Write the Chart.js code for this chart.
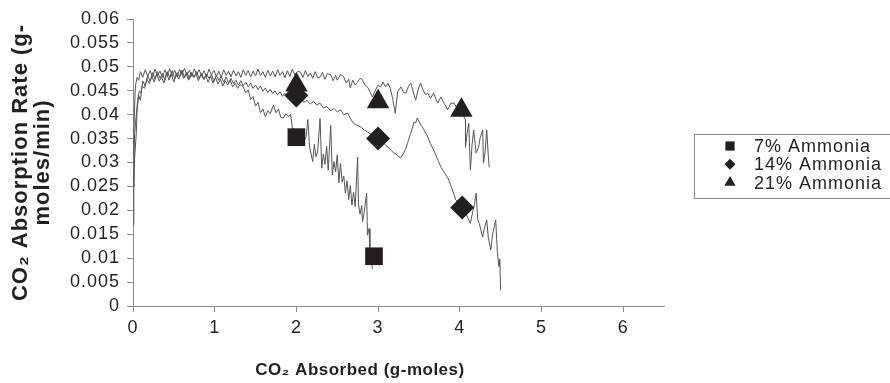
<!DOCTYPE html>
<html>
<head>
<meta charset="utf-8">
<script src="https://cdn.jsdelivr.net/npm/chart.js@4.4.1/dist/chart.umd.min.js"></script>
<style>
  html, body { margin: 0; padding: 0; background: #fff; }
  #wrap { width: 890px; height: 383px; }
</style>
</head>
<body>
<div id="wrap"><canvas id="grafico" width="890" height="383"></canvas></div>
<script>
const seriesLabels = ['7% Ammonia', '14% Ammonia', '21% Ammonia'];
const markerStyles = ['rect', 'rectRot', 'triangle'];
const xTitle = 'CO₂ Absorbed (g-moles)';
const yTitle = ['CO₂ Absorption Rate (g-', 'moles/min)'];

// measured curves, [g-moles absorbed, rate]
const curve7 = [[0,0.017],[0.01,0.024],[0.02,0.031],[0.04,0.036],[0.05,0.041],[0.07,0.044],[0.09,0.043],[0.11,0.046],[0.14,0.0455],[0.17,0.0475],[0.2,0.0465],[0.23,0.048],[0.26,0.0468],[0.29,0.0485],[0.32,0.047],[0.35,0.0478],[0.38,0.0466],[0.41,0.0488],[0.44,0.0472],[0.47,0.0484],[0.5,0.0468],[0.53,0.0486],[0.56,0.0474],[0.59,0.049],[0.62,0.0476],[0.65,0.0487],[0.68,0.0472],[0.71,0.0489],[0.74,0.0478],[0.77,0.0486],[0.8,0.0471],[0.83,0.0484],[0.86,0.0475],[0.89,0.0482],[0.92,0.0468],[0.95,0.048],[0.98,0.0466],[1.01,0.0478],[1.04,0.0464],[1.07,0.0474],[1.1,0.046],[1.13,0.0471],[1.16,0.0462],[1.19,0.0472],[1.22,0.0458],[1.25,0.0466],[1.28,0.0455],[1.31,0.0463],[1.35,0.0458],[1.38,0.0446],[1.41,0.0452],[1.44,0.0432],[1.47,0.0438],[1.5,0.0418],[1.53,0.0426],[1.56,0.0404],[1.59,0.0412],[1.62,0.0396],[1.65,0.0408],[1.68,0.0402],[1.72,0.042],[1.75,0.0404],[1.78,0.0412],[1.81,0.0394],[1.84,0.0393],[1.87,0.0402],[1.9,0.0396],[1.93,0.0401],[1.95,0.0372],[1.99,0.0368],[2.02,0.0362],[2.05,0.0358],[2.08,0.0352],[2.1,0.0346],[2.12,0.0355],[2.14,0.039],[2.16,0.0335],[2.18,0.0318],[2.2,0.0302],[2.22,0.0338],[2.24,0.0312],[2.26,0.0322],[2.29,0.0392],[2.31,0.0288],[2.33,0.0318],[2.35,0.0296],[2.37,0.0334],[2.39,0.0284],[2.42,0.0378],[2.44,0.0274],[2.46,0.0302],[2.48,0.028],[2.5,0.0316],[2.52,0.0258],[2.54,0.0298],[2.56,0.0259],[2.58,0.0272],[2.6,0.0236],[2.62,0.0262],[2.64,0.0222],[2.66,0.0252],[2.68,0.0211],[2.7,0.0238],[2.72,0.0208],[2.75,0.0311],[2.76,0.0212],[2.78,0.0192],[2.8,0.021],[2.81,0.0176],[2.83,0.0196],[2.86,0.0236],[2.87,0.0148],[2.89,0.0162],[2.9,0.0113],[2.92,0.0095],[2.93,0.0078]];

const curve14 = [[0,0.025],[0.01,0.03],[0.02,0.036],[0.04,0.04],[0.06,0.0435],[0.08,0.045],[0.1,0.0445],[0.12,0.047],[0.15,0.046],[0.18,0.0482],[0.21,0.047],[0.24,0.0488],[0.27,0.0474],[0.3,0.049],[0.33,0.0476],[0.36,0.0486],[0.39,0.0472],[0.42,0.049],[0.45,0.0478],[0.48,0.0492],[0.51,0.0475],[0.54,0.0488],[0.57,0.0479],[0.6,0.0493],[0.63,0.0477],[0.66,0.0489],[0.69,0.0474],[0.72,0.0487],[0.75,0.0478],[0.78,0.049],[0.81,0.0475],[0.84,0.0486],[0.87,0.0473],[0.9,0.0485],[0.93,0.0476],[0.96,0.0484],[0.99,0.047],[1.02,0.0482],[1.05,0.0472],[1.08,0.048],[1.11,0.0468],[1.14,0.0479],[1.17,0.0466],[1.2,0.0476],[1.23,0.0465],[1.26,0.0472],[1.29,0.0462],[1.32,0.0471],[1.35,0.046],[1.38,0.0468],[1.41,0.0458],[1.44,0.0466],[1.47,0.0455],[1.5,0.0462],[1.53,0.0452],[1.56,0.046],[1.59,0.0449],[1.62,0.0456],[1.65,0.0446],[1.68,0.0453],[1.71,0.0444],[1.74,0.045],[1.77,0.0441],[1.8,0.0448],[1.83,0.0438],[1.86,0.0445],[1.89,0.0436],[1.92,0.0442],[1.95,0.0433],[1.98,0.0438],[2.01,0.0432],[2.05,0.0436],[2.09,0.0426],[2.13,0.043],[2.17,0.0422],[2.21,0.0428],[2.25,0.042],[2.29,0.0424],[2.33,0.0414],[2.37,0.0417],[2.42,0.0408],[2.46,0.0413],[2.5,0.0406],[2.54,0.041],[2.58,0.04],[2.63,0.0403],[2.66,0.0392],[2.7,0.0382],[2.74,0.0378],[2.79,0.0374],[2.83,0.0368],[2.87,0.0364],[2.92,0.0358],[2.96,0.0355],[3.0,0.035],[3.04,0.0345],[3.08,0.0338],[3.12,0.0332],[3.16,0.0326],[3.19,0.032],[3.22,0.0318],[3.25,0.0312],[3.28,0.0311],[3.31,0.0318],[3.34,0.033],[3.36,0.034],[3.39,0.0356],[3.42,0.0372],[3.44,0.0385],[3.46,0.0383],[3.48,0.0393],[3.5,0.0386],[3.52,0.038],[3.55,0.0372],[3.58,0.0362],[3.61,0.0353],[3.64,0.034],[3.68,0.0326],[3.71,0.0314],[3.74,0.0302],[3.77,0.029],[3.8,0.0282],[3.83,0.0274],[3.86,0.0266],[3.89,0.0252],[3.92,0.0238],[3.95,0.0222],[3.98,0.0218],[4.01,0.0212],[4.04,0.0207],[4.07,0.0196],[4.1,0.0184],[4.13,0.0173],[4.16,0.0198],[4.18,0.0212],[4.2,0.0236],[4.22,0.018],[4.24,0.0172],[4.26,0.0158],[4.28,0.0144],[4.3,0.0162],[4.33,0.018],[4.35,0.0142],[4.38,0.0117],[4.4,0.0148],[4.42,0.0164],[4.44,0.018],[4.46,0.0112],[4.48,0.0082],[4.49,0.0098],[4.5,0.0033]];

const curve21 = [[0,0.031],[0.01,0.036],[0.02,0.042],[0.03,0.046],[0.05,0.0478],[0.07,0.0472],[0.09,0.049],[0.12,0.0478],[0.15,0.0494],[0.18,0.048],[0.21,0.0492],[0.24,0.0479],[0.27,0.0495],[0.3,0.0482],[0.33,0.0491],[0.36,0.0478],[0.39,0.0494],[0.42,0.0483],[0.45,0.0496],[0.48,0.0481],[0.51,0.0493],[0.54,0.0479],[0.57,0.0495],[0.6,0.0484],[0.63,0.0497],[0.66,0.0482],[0.69,0.0493],[0.72,0.048],[0.75,0.0496],[0.78,0.0484],[0.81,0.0494],[0.84,0.0481],[0.87,0.0492],[0.9,0.0479],[0.93,0.0495],[0.96,0.0483],[0.99,0.0493],[1.02,0.048],[1.05,0.0491],[1.08,0.0478],[1.11,0.0494],[1.14,0.0482],[1.17,0.0491],[1.2,0.0479],[1.23,0.0493],[1.26,0.0481],[1.29,0.049],[1.32,0.0478],[1.35,0.0494],[1.38,0.0482],[1.41,0.0492],[1.44,0.0479],[1.47,0.0491],[1.5,0.0481],[1.53,0.0495],[1.56,0.0482],[1.59,0.049],[1.62,0.0478],[1.65,0.0493],[1.68,0.0481],[1.71,0.0491],[1.74,0.0479],[1.77,0.0494],[1.8,0.0482],[1.83,0.049],[1.86,0.0477],[1.89,0.0492],[1.92,0.048],[1.95,0.0495],[1.98,0.0483],[2.02,0.0491],[2.05,0.0489],[2.08,0.0478],[2.11,0.0492],[2.14,0.048],[2.17,0.0487],[2.2,0.0476],[2.23,0.049],[2.26,0.0477],[2.29,0.0479],[2.32,0.0488],[2.35,0.0474],[2.38,0.0486],[2.42,0.0483],[2.45,0.0471],[2.48,0.0482],[2.5,0.0472],[2.54,0.0484],[2.58,0.0479],[2.61,0.0466],[2.64,0.0474],[2.66,0.0456],[2.69,0.0472],[2.72,0.0462],[2.75,0.0468],[2.78,0.0476],[2.81,0.0472],[2.84,0.0462],[2.87,0.0458],[2.9,0.0448],[2.93,0.0437],[2.97,0.0452],[3.0,0.0462],[3.03,0.0458],[3.06,0.0468],[3.09,0.0458],[3.12,0.0466],[3.15,0.0455],[3.18,0.0432],[3.21,0.0403],[3.24,0.0448],[3.28,0.0458],[3.31,0.0447],[3.34,0.0445],[3.37,0.0458],[3.4,0.0466],[3.43,0.0448],[3.46,0.043],[3.49,0.0452],[3.52,0.0466],[3.55,0.0452],[3.58,0.0442],[3.61,0.0445],[3.64,0.0434],[3.68,0.0445],[3.71,0.0432],[3.73,0.0424],[3.77,0.0437],[3.8,0.0426],[3.83,0.0418],[3.85,0.041],[3.89,0.0424],[3.93,0.0424],[3.96,0.0416],[3.99,0.0414],[4.02,0.0402],[4.05,0.0396],[4.07,0.0389],[4.07,0.0332],[4.09,0.0362],[4.11,0.0382],[4.13,0.0284],[4.15,0.0336],[4.17,0.0368],[4.2,0.032],[4.23,0.0332],[4.25,0.0352],[4.28,0.0368],[4.29,0.0299],[4.31,0.0322],[4.33,0.0368],[4.35,0.0312],[4.36,0.029]];

// large marker points
const marker7X = [2.0, 2.95];
const marker7Y = [0.0353, 0.0104];
const marker14X = [2.0, 3.0, 4.03];
const marker14Y = [0.0440, 0.0350, 0.0206];
const marker21X = [2.0, 3.0, 4.02];
const marker21Y = [0.0462, 0.0427, 0.0409];

const yMin = 0, yMax = 0.06, yStep = 0.005;
const xMin = 0, xMax = 6.5, xStep = 1;

const tinta = '#231f20';
const fonte = '"Liberation Sans", Arial, sans-serif';

function pares(arr) { return arr.map(p => ({ x: p[0], y: p[1] })); }
function pontos(xs, ys) { return xs.map((x, i) => ({ x: x, y: ys[i] })); }

function linha(arr) {
    return {
        data: pares(arr), showLine: true, borderColor: '#555555', borderWidth: 1,
        pointRadius: 0, pointHoverRadius: 0, order: 2
    };
}
function marcador(xs, ys, estilo, raio, label) {
    return {
        label: label, data: pontos(xs, ys), showLine: false, pointStyle: estilo,
        pointRadius: raio, backgroundColor: tinta, borderColor: tinta, borderWidth: 0, order: 1
    };
}

// legend box + x title drawn by hand
const legendaCaixa = {
    id: 'legendaCaixa',
    beforeUpdate(chart) { chart.ctx.letterSpacing = '1px'; },
    afterDraw(chart) {
        const ctx = chart.ctx;
        ctx.save();
        ctx.strokeStyle = '#8a8a8a';
        ctx.lineWidth = 1;
        ctx.strokeRect(694.5, 134.5, 220, 64);
        ctx.font = '18px ' + fonte;
        ctx.letterSpacing = '1px';
        ctx.textBaseline = 'middle';
        ctx.textAlign = 'left';
        const raios = [6.5, 5.5, 6.5];
        seriesLabels.forEach((label, i) => {
            const y = 146 + i * 18.3;
            ctx.fillStyle = tinta;
            Chart.helpers.drawPoint(ctx, { pointStyle: markerStyles[i], radius: raios[i], rotation: 0, borderWidth: 0 }, 730, y);
            ctx.fillText(label, 754, y + 1);
        });
        ctx.font = 'bold 17px ' + fonte;
        ctx.letterSpacing = '0.5px';
        ctx.textAlign = 'center';
        ctx.fillText(xTitle, 360, 370);
        ctx.restore();
    }
};

new Chart(document.getElementById('grafico').getContext('2d'), {
    type: 'scatter',
    data: {
        datasets: [
            marcador(marker7X, marker7Y, markerStyles[0], 12.5, seriesLabels[0]),
            marcador(marker14X, marker14Y, markerStyles[1], 12, seriesLabels[1]),
            marcador(marker21X, marker21Y, markerStyles[2], 13, seriesLabels[2]),
            linha(curve7), linha(curve14), linha(curve21)
        ]
    },
    options: {
        responsive: false, animation: false, devicePixelRatio: 1,
        layout: { padding: { top: 19, right: 226, bottom: 0, left: 0 } },
        plugins: { legend: { display: false }, tooltip: { enabled: false } },
        scales: {
            x: {
                type: 'linear', min: xMin, max: xMax,
                afterFit(s) { s.height = 77; },
                ticks: { stepSize: xStep, includeBounds: false, autoSkip: false, color: tinta, padding: 5, font: { family: fonte, size: 18 } },
                grid: { drawOnChartArea: false, tickLength: 6, color: '#8a8a8a' },
                border: { color: '#8a8a8a' }
            },
            y: {
                min: yMin, max: yMax,
                afterFit(s) { s.width = 133; },
                ticks: { stepSize: yStep, autoSkip: false, color: tinta, padding: 7, font: { family: fonte, size: 18, lineHeight: 1.0 },
                    callback: v => String(+v.toFixed(3)) },
                grid: { drawOnChartArea: false, tickLength: 6, color: '#8a8a8a' },
                border: { color: '#8a8a8a' },
                title: { display: true, text: yTitle, color: tinta, padding: { top: 10, bottom: 0 }, font: { family: fonte, size: 22, weight: 'bold', lineHeight: 1.0 } }
            }
        }
    },
    plugins: [legendaCaixa]
});
</script>
</body>
</html>
